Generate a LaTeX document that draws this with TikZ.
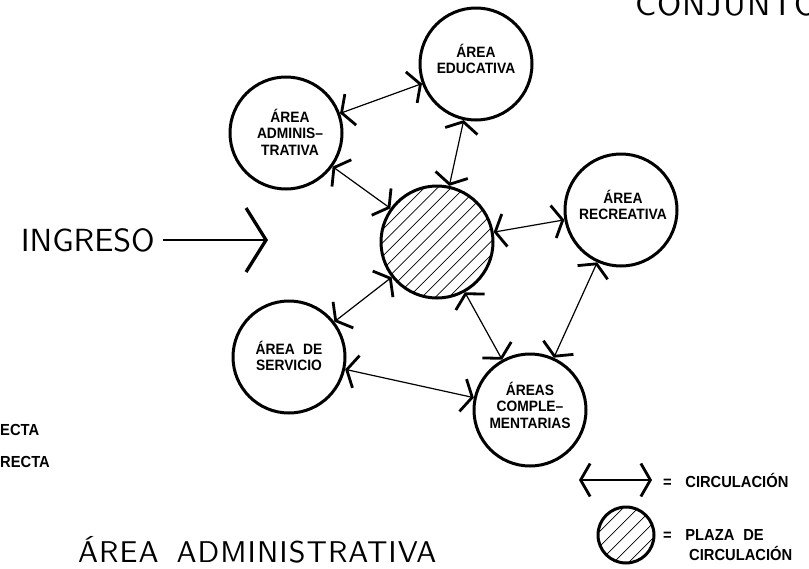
\documentclass[tikz,border=0pt]{standalone}
\usepackage{fontspec}
\setmainfont{Liberation Sans}
\newfontfamily\lblfont{Liberation Sans Bold}[FakeStretch=0.92]
\newfontfamily\cadfont{lmsans10-regular}[Extension=.otf]
\usetikzlibrary{arrows.meta}
\tikzset{
  cb/.tip={Straight Barb[length=9.5pt,width=33pt,line width=2.8pt]},
  bigb/.tip={Straight Barb[length=20pt,width=64pt,line width=3.3pt]},
  area/.style={circle, draw, line width=3pt, minimum size=112pt, inner sep=0pt},
  lbl/.style={align=center, inner sep=0pt, font=\lblfont\fontsize{15pt}{16.5pt}\selectfont},
  leg/.style={inner sep=0pt, font=\lblfont\fontsize{16pt}{18pt}\selectfont},
  cad/.style={inner sep=0pt, font=\cadfont\fontsize{#1}{#1}\selectfont},
  conn/.style={line width=1.2pt, cb-cb},
  hatch/.style={line width=0.7pt},
}
\begin{document}
\begin{tikzpicture}[x=1pt,y=-1pt]
\useasboundingbox (0,0) rectangle (809,568);

% plaza hatch
\begin{scope}
  \clip (437,242) circle[radius=56];
  \foreach \k in {-9,...,9} \draw[hatch] ({437+\k*13.4-90},332) -- ++(180,-180);
\end{scope}
% legend hatch
\begin{scope}
  \clip (626,535) circle[radius=28];
  \foreach \k in {-5,...,5} \draw[hatch] ({626+\k*15-50},585) -- ++(100,-100);
\end{scope}

% circles
\node[area] (edu) at (476,64) {};
\node[area] (adm) at (286,133) {};
\node[area] (rec) at (621,210) {};
\node[area] (ser) at (289,357) {};
\node[area] (com) at (530,410) {};
\node[area] (pla) at (437,242) {};
\node[circle, draw, line width=3pt, minimum size=56pt, inner sep=0pt] (lgc) at (626,535) {};

% labels
\node[lbl] (tedu) at (476,59) {ÁREA\\EDUCATIVA};
\node[lbl] (tadm) at (290,132) {ÁREA\\ADMINIS–\\TRATIVA};
\node[lbl] (trec) at (623,205) {ÁREA\\RECREATIVA};
\node[lbl] (tser) at (289,356) {ÁREA\hspace{0.55em}DE\\SERVICIO};
\node[lbl] (tcom) at (530,405) {ÁREAS\\COMPLE–\\MENTARIAS};

% connectors
\draw[conn] (adm) -- (edu);
\draw[conn] (adm) -- (pla);
\draw[conn] (edu) -- (pla);
\draw[conn] (pla) -- (rec);
\draw[conn] (pla) -- (ser);
\draw[conn] (pla) -- (com);
\draw[conn] (ser) -- (com);
\draw[conn] (rec) -- (com);

% ingreso
\node[cad=32pt, anchor=east, inner xsep=8pt] (ing) at (163,240) {INGRESO};
\coordinate (ingt) at (268,240);
\draw[line width=2pt, -bigb] (ing.east) -- (ingt);

% titles
\node[cad=33pt, anchor=base west] (conj) at (635,15) {\addfontfeature{LetterSpace=3}CONJUNTO};
\node[cad=30pt, anchor=base west] (title) at (78,562) {\addfontfeature{LetterSpace=3.5}ÁREA\hspace{0.6em}ADMINISTRATIVA};

% left fragments
\node[leg, anchor=west] (fr1) at (0,430) {ECTA};
\node[leg, anchor=west] (fr2) at (0,462) {RECTA};

% legend
\coordinate (lgA) at (579,480);
\coordinate (lgB) at (652,480);
\draw[conn] (lgA) -- (lgB);
\node[leg, anchor=west] (lg1) at (663,480) {=\hspace{0.85em}CIRCULACIÓN};
\node[leg, anchor=west] (lg2) at (663,535) {=\hspace{0.85em}PLAZA\hspace{0.55em}DE};
\node[leg, anchor=west] (lg3) at (689,553) {CIRCULACIÓN};
\end{tikzpicture}
\end{document}
